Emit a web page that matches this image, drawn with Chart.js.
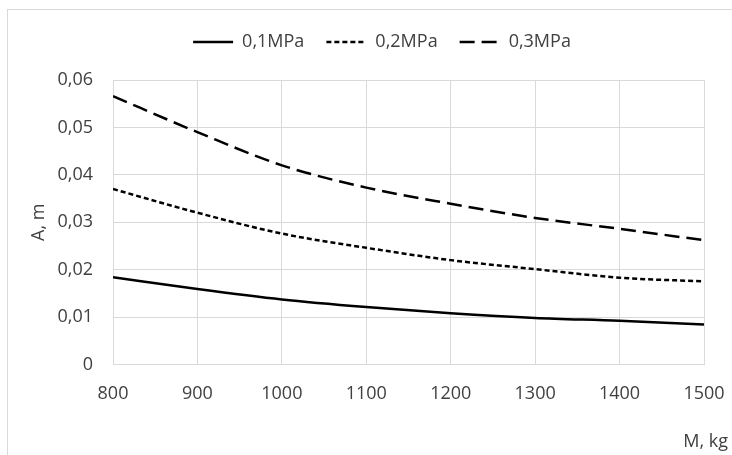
<!DOCTYPE html>
<html lang="en">
<head>
    <meta charset="utf-8" />
    <title>A vs M</title>
    <style>
        body {
            margin: 0;
            background: #ffffff;
        }
        .frame {
            position: absolute;
            left: 7px;
            top: 9px;
            width: 760px;
            height: 480px;
            border-left: 1px solid #d9d9d9;
            border-top: 1px solid #d9d9d9;
        }
        .wrap {
            position: absolute;
            left: 0;
            top: 0;
            width: 732px;
            height: 455px;
        }
    </style>
</head>
<body>
    <div class="frame"></div>
    <div class="wrap">
        <canvas id="myChart" width="732" height="455"></canvas>
    </div>

    <script src="https://cdn.jsdelivr.net/npm/chart.js@4.4.0/dist/chart.umd.min.js"></script>
    <script type="text/JavaScript">
        // masses, kg
        var masses = [800, 900, 1000, 1100, 1200, 1300, 1400, 1500];
        // amplitude A, m for each pressure
        var a01 = [0.0184, 0.0159, 0.0137, 0.0121, 0.0108, 0.0098, 0.0092, 0.0084];
        var a02 = [0.0370, 0.0320, 0.0276, 0.0246, 0.0220, 0.0201, 0.0183, 0.0175];
        var a03 = [0.0566, 0.0490, 0.0420, 0.0373, 0.0339, 0.0309, 0.0286, 0.0262];
        var seriesNames = ["0,1MPa", "0,2MPa", "0,3MPa"];

        var textColor = '#404040';
        var gridColor = '#d9d9d9';
        var fontFamily = "'Open Sans', sans-serif";

        var toPoints = function (arr) {
            return masses.map(function (m, i) { return { x: m, y: arr[i] }; });
        };

        // x axis title sits below the ticks, to the right of the plot
        var xTitlePlugin = {
            id: 'xTitle',
            afterDraw: function (chart) {
                var ctx = chart.ctx;
                ctx.save();
                ctx.font = "18px " + fontFamily;
                ctx.fillStyle = textColor;
                ctx.textAlign = 'right';
                ctx.textBaseline = 'middle';
                ctx.fillText('M, kg', chart.chartArea.right + 24, chart.chartArea.bottom + 77);
                ctx.restore();
            }
        };

        // more room under the legend, and nudge it a bit to the right
        var legendPlugin = {
            id: 'legendSpace',
            beforeInit: function (chart) {
                var origFit = chart.legend.fit;
                chart.legend.fit = function () {
                    origFit.bind(chart.legend)();
                    this.height += 19;
                };
            },
            afterLayout: function (chart) {
                chart.legend.left += 25;
                chart.legend.right += 25;
            }
        };

        var ctx = document.getElementById("myChart");
        var myChart = new Chart(ctx, {
            type: 'line',
            data: {
                datasets: [{
                    label: seriesNames[0],
                    data: toPoints(a01),
                    borderColor: '#000000',
                    borderWidth: 2.5,
                    pointRadius: 0,
                    cubicInterpolationMode: 'monotone'
                }, {
                    label: seriesNames[1],
                    data: toPoints(a02),
                    borderColor: '#000000',
                    borderWidth: 2.5,
                    borderDash: [5, 3],
                    pointRadius: 0,
                    cubicInterpolationMode: 'monotone'
                }, {
                    label: seriesNames[2],
                    data: toPoints(a03),
                    borderColor: '#000000',
                    borderWidth: 2.5,
                    borderDash: [15, 7],
                    pointRadius: 0,
                    cubicInterpolationMode: 'monotone'
                }]
            },
            options: {
                responsive: false,
                animation: false,
                layout: {
                    padding: { left: 10, right: 28, top: 11, bottom: 31 }
                },
                plugins: {
                    tooltip: { enabled: false },
                    legend: {
                        position: 'top',
                        labels: {
                            usePointStyle: true,
                            pointStyle: 'line',
                            pointStyleWidth: 40,
                            color: textColor,
                            padding: 22,
                            font: { family: fontFamily, size: 18 },
                            generateLabels: function (chart) {
                                return chart.data.datasets.map(function (ds, i) {
                                    return {
                                        text: ds.label,
                                        fillStyle: ds.borderColor,
                                        strokeStyle: ds.borderColor,
                                        lineWidth: ds.borderWidth,
                                        lineDash: ds.borderDash || [],
                                        pointStyle: 'line',
                                        fontColor: textColor,
                                        hidden: false,
                                        datasetIndex: i
                                    };
                                });
                            }
                        }
                    }
                },
                scales: {
                    x: {
                        type: 'linear',
                        min: 800,
                        max: 1500,
                        afterFit: function (scale) {
                            // layout padding alone decides the side margins
                            scale.paddingLeft = 0;
                            scale.paddingRight = 0;
                        },
                        ticks: {
                            stepSize: 100,
                            padding: 19,
                            color: textColor,
                            font: { family: fontFamily, size: 18 },
                            callback: function (v) { return String(v); }
                        },
                        grid: { color: gridColor, drawTicks: false },
                        border: { color: gridColor }
                    },
                    y: {
                        min: 0,
                        max: 0.06,
                        afterFit: function (scale) { scale.width = 103; },
                        title: {
                            display: true,
                            text: 'A, m',
                            color: textColor,
                            padding: { top: 18, bottom: 0 },
                            font: { family: fontFamily, size: 18 }
                        },
                        ticks: {
                            stepSize: 0.01,
                            padding: 20,
                            color: textColor,
                            font: { family: fontFamily, size: 18 },
                            callback: function (v) {
                                if (Math.abs(v) < 1e-9) return '0';
                                return v.toFixed(2).replace('.', ',');
                            }
                        },
                        grid: { color: gridColor, drawTicks: false },
                        border: { color: gridColor }
                    }
                }
            },
            plugins: [xTitlePlugin, legendPlugin]
        });
    </script>
</body>
</html>
